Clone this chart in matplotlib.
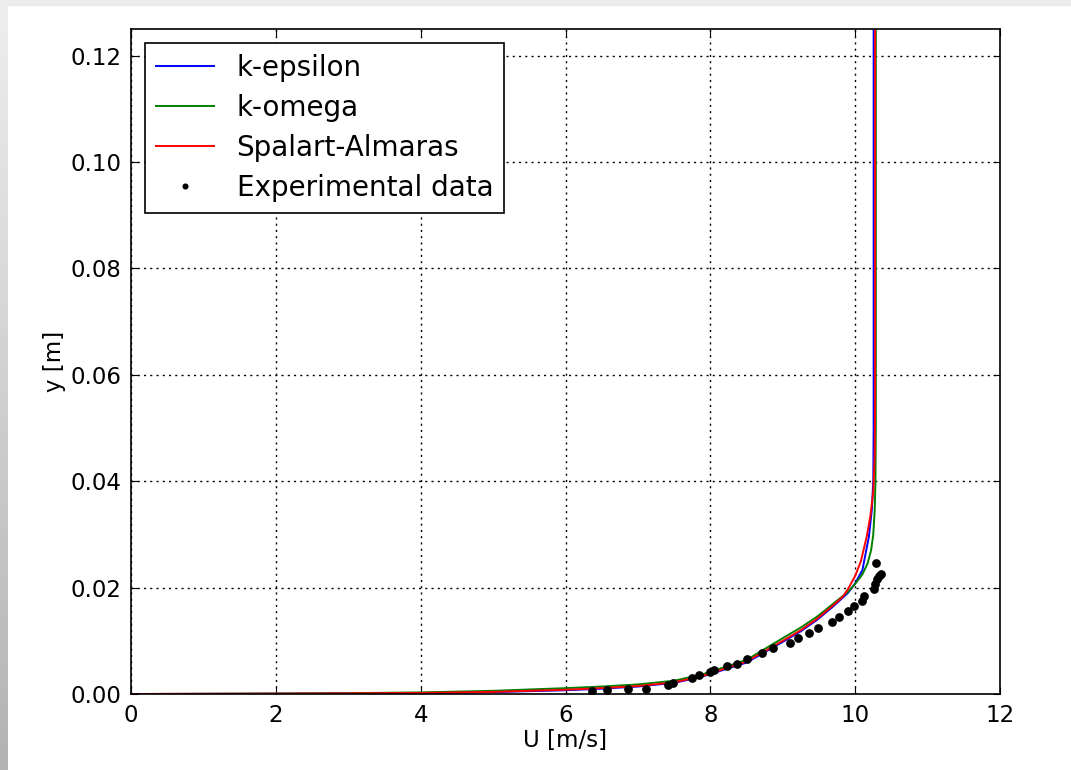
import numpy as np
import matplotlib
matplotlib.use('Agg')
import matplotlib.pyplot as plt
from matplotlib.patches import Rectangle

# velocity profiles: U [m/s], y [m]
ke_u = [0, 2, 3, 4, 5, 6, 6.5, 7, 7.5, 7.87, 8.5, 9.0, 9.25, 9.48, 9.7, 9.9, 10.0, 10.1, 10.19, 10.23, 10.25, 10.255, 10.255]
ke_y = [0, 0.00005, 0.0001, 0.00018, 0.00036, 0.0007, 0.001, 0.0014, 0.0021, 0.0032, 0.0059, 0.0098, 0.0118, 0.0140,
        0.0165, 0.0190, 0.0208, 0.0233, 0.0296, 0.0346, 0.040, 0.050, 0.125]

kw_u = [0, 2, 3, 4, 5, 6, 6.5, 7, 7.5, 7.87, 8.5, 9.0, 9.25, 9.48, 9.7, 9.9, 10.0, 10.1, 10.17, 10.22, 10.25, 10.27, 10.28, 10.285, 10.285]
kw_y = [0, 0.00008, 0.00016, 0.0003, 0.0006, 0.0011, 0.0014, 0.0018, 0.0025, 0.0036, 0.0064, 0.0105, 0.0125, 0.0146,
        0.0170, 0.0192, 0.0207, 0.0225, 0.0245, 0.0270, 0.0300, 0.0346, 0.040, 0.050, 0.125]

sa_u = [0, 2, 3, 4, 5, 6, 6.5, 7, 7.5, 7.87, 8.5, 9.0, 9.25, 9.48, 9.7, 9.83, 9.9, 10.0, 10.08, 10.16, 10.21, 10.25, 10.27, 10.275, 10.275]
sa_y = [0, 0.00006, 0.00012, 0.0002, 0.0004, 0.0008, 0.0011, 0.0015, 0.0022, 0.0033, 0.0061, 0.0100, 0.0120, 0.0142,
        0.0167, 0.0183, 0.0197, 0.0222, 0.0250, 0.0296, 0.0335, 0.038, 0.045, 0.055, 0.125]

exp_u = [6.36, 6.57, 6.86, 7.11, 7.41, 7.49, 7.74, 7.84, 8.00, 8.05, 8.23, 8.37, 8.51, 8.71, 8.87, 9.10,
         9.21, 9.36, 9.49, 9.68, 9.77, 9.90, 9.98, 10.09, 10.12, 10.26, 10.27, 10.30, 10.33, 10.35, 10.29]
exp_y = [0.0006, 0.00075, 0.00094, 0.001, 0.0016, 0.0021, 0.003, 0.0036, 0.0041, 0.0045, 0.0052, 0.0056,
         0.0066, 0.0077, 0.0086, 0.0096, 0.0105, 0.0115, 0.0125, 0.0136, 0.0145, 0.0156, 0.0166, 0.0175,
         0.0185, 0.0197, 0.0206, 0.0216, 0.0221, 0.0226, 0.0246]

xticks = [0, 2, 4, 6, 8, 10, 12]
yticks = [0.00, 0.02, 0.04, 0.06, 0.08, 0.10, 0.12]

fig = plt.figure(figsize=(10.71, 7.7), dpi=100)

# grey border of the screenshot
fig.patches.append(Rectangle((0, 765 / 770), 1, 5 / 770, transform=fig.transFigure,
                             color='#ececec', zorder=0))
strip = fig.add_axes([0, 0, 8 / 1071, 1])
strip.imshow(np.linspace(0.93, 0.70, 100).reshape(-1, 1), cmap='gray', vmin=0, vmax=1,
             aspect='auto', interpolation='bilinear')
strip.axis('off')

ax = fig.add_axes([131 / 1071, 76 / 770, 869 / 1071, 665 / 770])
ax.plot(ke_u, ke_y, color='b', lw=1.4, label='k-epsilon')
ax.plot(kw_u, kw_y, color='g', lw=1.4, label='k-omega')
ax.plot(sa_u, sa_y, color='r', lw=1.4, label='Spalart-Almaras')
ax.plot(exp_u, exp_y, 'ko', ms=6.3, mew=0, label='Experimental data')

ax.set_xlim(0, 12)
ax.set_ylim(0, 0.125)
ax.set_xticks(xticks)
ax.set_yticks(yticks)
ax.set_yticklabels(['%.2f' % v for v in yticks])
ax.grid(True, color='k', linestyle=(0, (1.5, 3)), lw=1)
ax.tick_params(direction='in', top=True, right=True, length=5, labelsize=16.5, pad=7)
for s in ax.spines.values():
    s.set_linewidth(1.2)
ax.set_xlabel('U [m/s]', fontsize=16.5, labelpad=2)
ax.set_ylabel('y [m]', fontsize=16.5, labelpad=3)

leg = ax.legend(loc='upper left', fontsize=20, fancybox=False, framealpha=1,
                edgecolor='k', borderaxespad=0.5, handlelength=2.1, handletextpad=0.8,
                labelspacing=0.43, numpoints=1, markerscale=0.7)
leg.get_frame().set_linewidth(1.2)

fig.savefig('out.png', dpi=100)
